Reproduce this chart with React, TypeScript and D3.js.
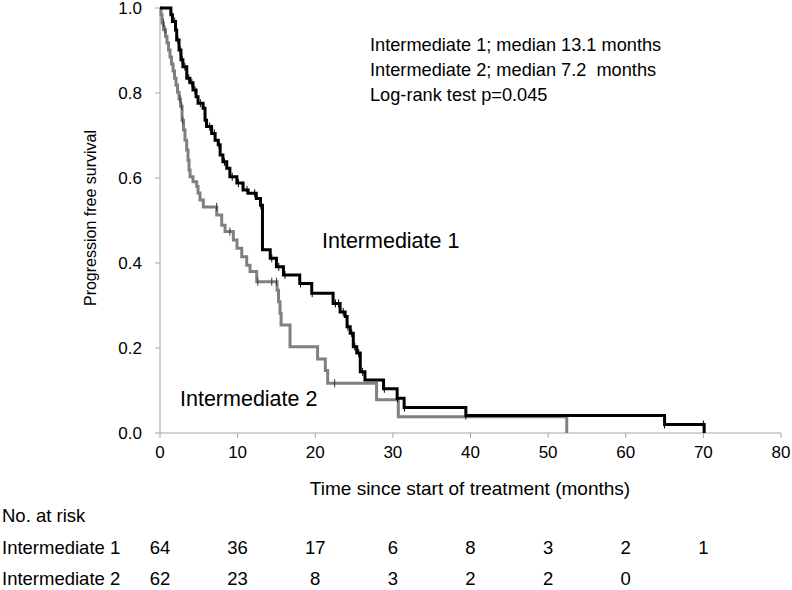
import React from "react";
import * as d3 from "d3";

// Kaplan-Meier steps: time (months) -> survival after the event
const int1Times = [1.4, 1.6, 2.0, 2.15, 2.45, 2.7, 2.95, 3.45, 3.85, 4.25, 4.65, 4.9, 5.55, 5.8, 6.0, 6.65, 7.1, 7.5, 7.75, 8.1, 8.6, 9.0, 9.9, 10.7, 11.35, 12.4, 12.95, 13.2, 14.2, 15.0, 15.9, 18.0, 19.55, 22.3, 23.2, 23.85, 24.1, 24.5, 24.9, 25.35, 25.8, 26.4, 28.8, 30.55, 31.45, 39.4, 65.0, 70.1];
const int1Surv = [0.984, 0.968, 0.948, 0.925, 0.901, 0.878, 0.862, 0.835, 0.824, 0.807, 0.791, 0.776, 0.764, 0.736, 0.721, 0.705, 0.689, 0.678, 0.654, 0.638, 0.623, 0.603, 0.588, 0.572, 0.564, 0.552, 0.536, 0.431, 0.411, 0.391, 0.372, 0.352, 0.329, 0.305, 0.285, 0.274, 0.25, 0.235, 0.203, 0.188, 0.144, 0.125, 0.104, 0.082, 0.06, 0.041, 0.02, 0.0];
const int1Censor = [1.5, 1.9, 2.3, 2.6, 2.85, 3.2, 3.7, 4.1, 4.5, 5.2, 5.9, 6.4, 7.0, 7.6, 8.3, 9.3, 10.1, 11.2, 12.2, 13.0, 14.4, 15.3, 16.1, 18.1, 19.6, 22.6, 23.0, 23.6, 24.2, 24.7, 25.1, 25.6, 26.1, 28.9, 30.6, 31.5, 39.4, 65.0, 70.0];

const int2Times = [0.13, 0.26, 0.45, 0.71, 0.9, 1.1, 1.29, 1.48, 1.68, 1.87, 2.06, 2.26, 2.45, 2.64, 2.84, 3.03, 3.22, 3.44, 3.61, 3.74, 3.87, 4.25, 4.73, 4.9, 5.15, 5.58, 7.31, 7.95, 8.38, 9.45, 9.92, 10.53, 11.17, 11.6, 12.46, 15.08, 15.27, 15.46, 15.6, 16.75, 20.3, 21.3, 21.6, 27.9, 30.7, 52.4];
const int2Surv = [0.984, 0.965, 0.949, 0.933, 0.918, 0.901, 0.885, 0.868, 0.852, 0.835, 0.819, 0.802, 0.786, 0.769, 0.736, 0.713, 0.689, 0.666, 0.642, 0.619, 0.603, 0.591, 0.58, 0.565, 0.548, 0.532, 0.513, 0.489, 0.474, 0.454, 0.435, 0.415, 0.395, 0.38, 0.356, 0.336, 0.309, 0.282, 0.254, 0.203, 0.174, 0.147, 0.117, 0.078, 0.038, 0.0];
const int2Censor = [0.43, 0.64, 2.58, 2.8, 2.92, 7.3, 9.0, 12.6, 14.4, 15.0, 22.5];

const xTicks = [0, 10, 20, 30, 40, 50, 60, 70, 80];
const yTicks = [0, 0.2, 0.4, 0.6, 0.8, 1.0];
const riskTimes = [0, 10, 20, 30, 40, 50, 60, 70];
const atRisk1 = [64, 36, 17, 6, 8, 3, 2, 1];
const atRisk2 = [62, 23, 8, 3, 2, 2, 0];
const annotations = [
  "Intermediate 1; median 13.1 months",
  "Intermediate 2; median 7.2  months",
  "Log-rank test p=0.045",
];

const FONT = "'Liberation Sans', Arial, sans-serif";

function survAt(times: number[], surv: number[], t: number) {
  let s = 1;
  for (let i = 0; i < times.length; i++) if (times[i] <= t) s = surv[i];
  return s;
}

export default function App() {
  const x = d3.scaleLinear().domain([0, 80]).range([160, 781]);
  const y = d3.scaleLinear().domain([0, 1]).range([433, 8]);
  const line = d3
    .line<[number, number]>()
    .x((d) => x(d[0]))
    .y((d) => y(d[1]))
    .curve(d3.curveStepAfter);
  const pts1: [number, number][] = [[0, 1], ...int1Times.map((t, i) => [t, int1Surv[i]] as [number, number])];
  const pts2: [number, number][] = [[0, 1], ...int2Times.map((t, i) => [t, int2Surv[i]] as [number, number])];
  const axisColor = "#a6a6a6";
  const c1 = "#000000";
  const c2 = "#808080";
  const bottomFs = 18.5;

  return (
    <svg width={792} height={590} style={{ position: "absolute", left: 0, top: 0, background: "#fff" }} fontFamily={FONT}>
      {/* axes */}
      <line x1={x(0)} x2={x(0)} y1={y(1)} y2={y(0)} stroke={axisColor} strokeWidth={1} />
      <line x1={x(0)} x2={x(80)} y1={y(0)} y2={y(0)} stroke={axisColor} strokeWidth={1} />
      {yTicks.map((v) => (
        <g key={"y" + v}>
          <line x1={x(0) - 5} x2={x(0)} y1={y(v)} y2={y(v)} stroke={axisColor} />
          <text x={142} y={y(v)} textAnchor="end" dominantBaseline="central" fontSize={17} fill="#000">
            {v.toFixed(1)}
          </text>
        </g>
      ))}
      {xTicks.map((v) => (
        <g key={"x" + v}>
          <line x1={x(v)} x2={x(v)} y1={y(0)} y2={y(0) + 5} stroke={axisColor} />
          <text x={x(v)} y={452} textAnchor="middle" dominantBaseline="central" fontSize={17} fill="#000">
            {v}
          </text>
        </g>
      ))}
      <text x={470} y={488} textAnchor="middle" dominantBaseline="central" fontSize={19} fill="#000">
        Time since start of treatment (months)
      </text>
      <text
        transform={`translate(90,218) rotate(-90)`}
        textAnchor="middle"
        dominantBaseline="central"
        fontSize={16}
        fill="#000"
      >
        Progression free  survival
      </text>

      {/* curves */}
      <path d={line(pts2) || ""} fill="none" stroke={c2} strokeWidth={3} />
      <path d={line(pts1) || ""} fill="none" stroke={c1} strokeWidth={3} />
      {int2Censor.map((t, i) => {
        const s = survAt(int2Times, int2Surv, t);
        return <line key={"c2" + i} x1={x(t)} x2={x(t)} y1={y(s) - 4} y2={y(s) + 4} stroke="#333" strokeWidth={1} />;
      })}
      {int1Censor.map((t, i) => {
        const s = survAt(int1Times, int1Surv, t);
        return <line key={"c1" + i} x1={x(t)} x2={x(t)} y1={y(s) - 4} y2={y(s) + 4} stroke="#000" strokeWidth={1} />;
      })}

      {/* labels */}
      {annotations.map((a, i) => (
        <text key={a} x={370} y={45 + i * 25} dominantBaseline="central" fontSize={18.2} fill="#000" style={{ whiteSpace: "pre" }}>
          {a}
        </text>
      ))}
      <text x={322} y={241} dominantBaseline="central" fontSize={21.5} fill="#000">
        Intermediate 1
      </text>
      <text x={180} y={399} dominantBaseline="central" fontSize={21.5} fill="#000">
        Intermediate 2
      </text>

      {/* number at risk */}
      <text x={2} y={515} dominantBaseline="central" fontSize={bottomFs} fill="#000">
        No. at risk
      </text>
      <text x={2} y={547} dominantBaseline="central" fontSize={bottomFs} fill="#000">
        Intermediate 1
      </text>
      <text x={2} y={578} dominantBaseline="central" fontSize={bottomFs} fill="#000">
        Intermediate 2
      </text>
      {atRisk1.map((n, i) => (
        <text key={"r1" + i} x={x(riskTimes[i])} y={547} textAnchor="middle" dominantBaseline="central" fontSize={bottomFs} fill="#000">
          {n}
        </text>
      ))}
      {atRisk2.map((n, i) => (
        <text key={"r2" + i} x={x(riskTimes[i])} y={578} textAnchor="middle" dominantBaseline="central" fontSize={bottomFs} fill="#000">
          {n}
        </text>
      ))}
    </svg>
  );
}
